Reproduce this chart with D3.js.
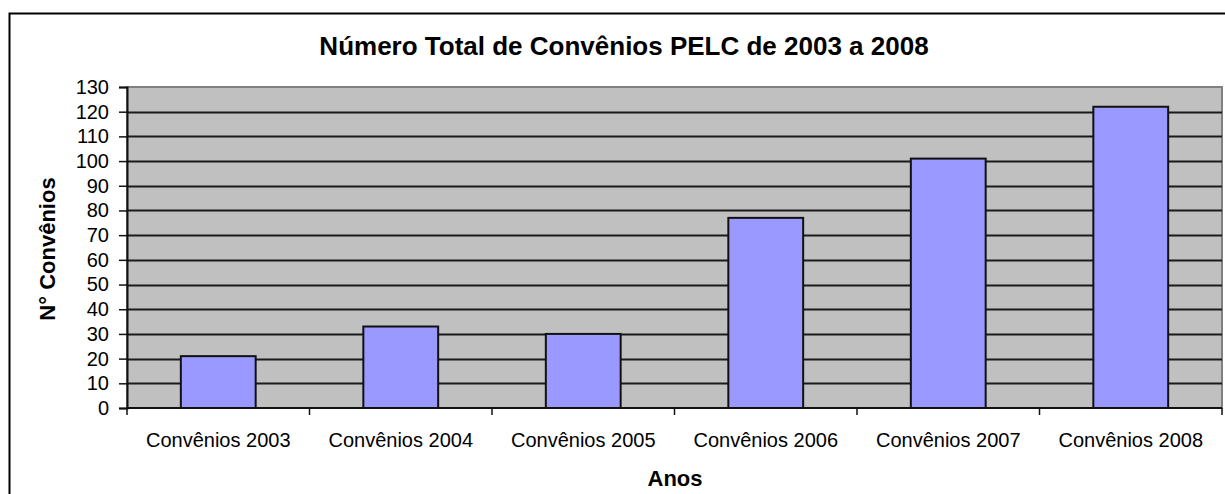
<!DOCTYPE html>
<html>
<head>
<meta charset="utf-8">
<script src="https://cdn.jsdelivr.net/npm/d3@7"></script>
<style>
  body { margin: 0; background: #fff; }
  svg { display: block; font-family: "Liberation Sans", Arial, sans-serif; }
</style>
</head>
<body>
<svg id="chart" width="1225" height="494"></svg>
<script>
const categories = ["Convênios 2003", "Convênios 2004", "Convênios 2005", "Convênios 2006", "Convênios 2007", "Convênios 2008"];
const values = [21, 33, 30, 77, 101, 122];
const yTicks = d3.range(0, 131, 10);

const margin = {top: 87, right: 3, bottom: 86, left: 127};
const width = 1225 - margin.left - margin.right;
const height = 494 - margin.top - margin.bottom;

const svg = d3.select("#chart");

// outer frame (runs off the page right and bottom)
svg.append("rect")
    .attr("x", 9.5).attr("y", 13.5)
    .attr("width", 1240).attr("height", 500)
    .attr("fill", "white")
    .attr("stroke", "black")
    .attr("stroke-width", 2);

svg.append("text")
    .attr("x", 624).attr("y", 55)
    .attr("text-anchor", "middle")
    .attr("font-size", 26)
    .attr("font-weight", "bold")
    .text("Número Total de Convênios PELC de 2003 a 2008");

const g = svg.append("g")
    .attr("transform", `translate(${margin.left},${margin.top})`);

const x = d3.scaleBand()
    .domain(categories)
    .range([0, width])
    .paddingInner(0.59)
    .paddingOuter(0.295);

const y = d3.scaleLinear()
    .domain([0, 130])
    .range([height, 0]);

// plot background
g.append("rect")
    .attr("width", width).attr("height", height)
    .attr("fill", "#c0c0c0")
    .attr("stroke", "#808080")
    .attr("stroke-width", 2);

// gridlines
g.append("g")
    .selectAll("line")
    .data(yTicks.filter(d => d > 0 && d < 130))
    .join("line")
    .attr("x1", 0).attr("x2", width)
    .attr("y1", d => Math.round(y(d)) + 0.5).attr("y2", d => Math.round(y(d)) + 0.5)
    .attr("stroke", "#1a1a1a")
    .attr("stroke-width", 2);

// bars
g.append("g")
    .selectAll("rect")
    .data(values)
    .join("rect")
    .attr("x", (d, i) => x(categories[i]))
    .attr("y", d => y(d))
    .attr("width", x.bandwidth())
    .attr("height", d => height - y(d))
    .attr("fill", "#9999ff")
    .attr("stroke", "#111")
    .attr("stroke-width", 2);

// y axis
const yAxis = g.append("g")
    .call(d3.axisLeft(y).tickValues(yTicks).tickSize(8).tickPadding(10));
yAxis.select(".domain").attr("stroke", "#111").attr("stroke-width", 2);
yAxis.selectAll(".tick line").attr("stroke", "#111").attr("stroke-width", 1.5);
yAxis.selectAll("text")
    .attr("font-size", 20)
    .attr("fill", "#000")
    .attr("font-family", "Liberation Sans, Arial, sans-serif");

// x axis: baseline, boundary ticks, labels
const xAxis = g.append("g").attr("transform", `translate(0,${height})`);
xAxis.append("line")
    .attr("x1", 0).attr("x2", width)
    .attr("stroke", "#111").attr("stroke-width", 2);
const step = x.step();
xAxis.selectAll(".bt")
    .data(d3.range(categories.length + 1))
    .join("line")
    .attr("class", "bt")
    .attr("x1", i => i * step).attr("x2", i => i * step)
    .attr("y1", 0).attr("y2", 7)
    .attr("stroke", "#111").attr("stroke-width", 1.5);
xAxis.selectAll(".lbl")
    .data(categories)
    .join("text")
    .attr("class", "lbl")
    .attr("x", d => x(d) + x.bandwidth() / 2)
    .attr("y", 39)
    .attr("text-anchor", "middle")
    .attr("font-size", 20)
    .text(d => d);

// axis titles
svg.append("text")
    .attr("x", 675).attr("y", 486)
    .attr("text-anchor", "middle")
    .attr("font-size", 22)
    .attr("font-weight", "bold")
    .text("Anos");

svg.append("text")
    .attr("transform", "translate(55,249) rotate(-90)")
    .attr("text-anchor", "middle")
    .attr("font-size", 22)
    .attr("font-weight", "bold")
    .text("N° Convênios");
</script>
</body>
</html>
